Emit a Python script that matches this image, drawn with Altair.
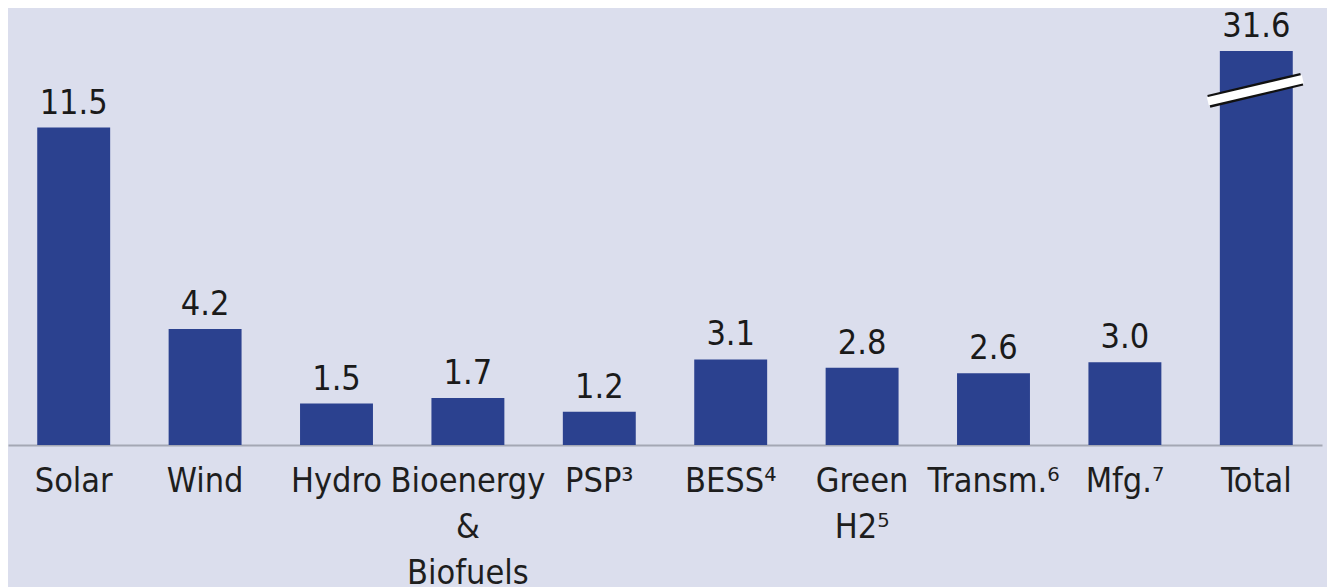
import altair as alt
import pandas as pd

categories = ["Solar", "Wind", "Hydro", "Bioenergy|&|Biofuels", "PSP³", "BESS⁴",
              "Green|H2⁵", "Transm.⁶", "Mfg.⁷", "Total"]
values = [11.5, 4.2, 1.5, 1.7, 1.2, 3.1, 2.8, 2.6, 3.0, 31.6]
value_labels = ["11.5", "4.2", "1.5", "1.7", "1.2", "3.1", "2.8", "2.6", "3.0", "31.6"]

# axis break: the Total bar is drawn truncated at this value
axis_break_at = 14.27
break_category = ["Total"]
break_left_value = [12.45]
break_right_value = [13.25]

df = pd.DataFrame({"cat": categories, "value": values, "label": value_labels})
df["shown"] = df["value"].clip(upper=axis_break_at)

brk = pd.DataFrame({"cat": break_category, "y1": break_left_value, "y2": break_right_value})

FONT = "DejaVu Sans Condensed"
BAR = "#2B418F"

xscale = alt.Scale(paddingInner=0.445, paddingOuter=0.2225)
yscale = alt.Scale(domain=[0, 15.83], nice=False)

x_axis = alt.Axis(
    title=None, labelAngle=0, ticks=False, domainColor="#a4a7b4", domainWidth=2,
    labelFont=FONT, labelFontSize=34, labelColor="#1e1e1e", labelPadding=19,
    labelLineHeight=46, labelOverlap=False, labelFlush=False, labelLimit=0,
    labelExpr="split(datum.label, '|')", grid=False,
)

base = alt.Chart(df)

bars = base.mark_bar(color=BAR).encode(
    x=alt.X("cat:N", sort=categories, scale=xscale, axis=x_axis),
    y=alt.Y("shown:Q", scale=yscale, axis=None),
)

texts = base.mark_text(dy=-14, baseline="alphabetic", fontSize=34, font=FONT,
                       color="#1a1a1a").encode(
    x=alt.X("cat:N", sort=categories),
    y=alt.Y("shown:Q"),
    text="label:N",
)

brk_base = alt.Chart(brk)
brk_black = brk_base.mark_rule(color="#111111", strokeWidth=13, strokeCap="butt",
                               xOffset=-11, x2Offset=9).encode(
    x=alt.X("cat:N", sort=categories, bandPosition=0),
    x2=alt.X2("cat", bandPosition=1),
    y=alt.Y("y1:Q"),
    y2=alt.Y2("y2"),
)
brk_white = brk_base.mark_rule(color="white", strokeWidth=8.5, strokeCap="butt",
                               xOffset=-12, x2Offset=10).encode(
    x=alt.X("cat:N", sort=categories, bandPosition=0),
    x2=alt.X2("cat", bandPosition=1),
    y=alt.Y("y1:Q"),
    y2=alt.Y2("y2"),
)

chart = alt.layer(bars, texts, brk_black, brk_white).properties(
    width=1314, height=437,
    autosize=alt.AutoSizeParams(type="none"),
    padding={"left": 0, "top": 0, "right": 5, "bottom": 142},
).configure(background="#dbdeed").configure_view(stroke=None)

chart.save("out.html", embed_options={"renderer": "svg", "actions": False})
